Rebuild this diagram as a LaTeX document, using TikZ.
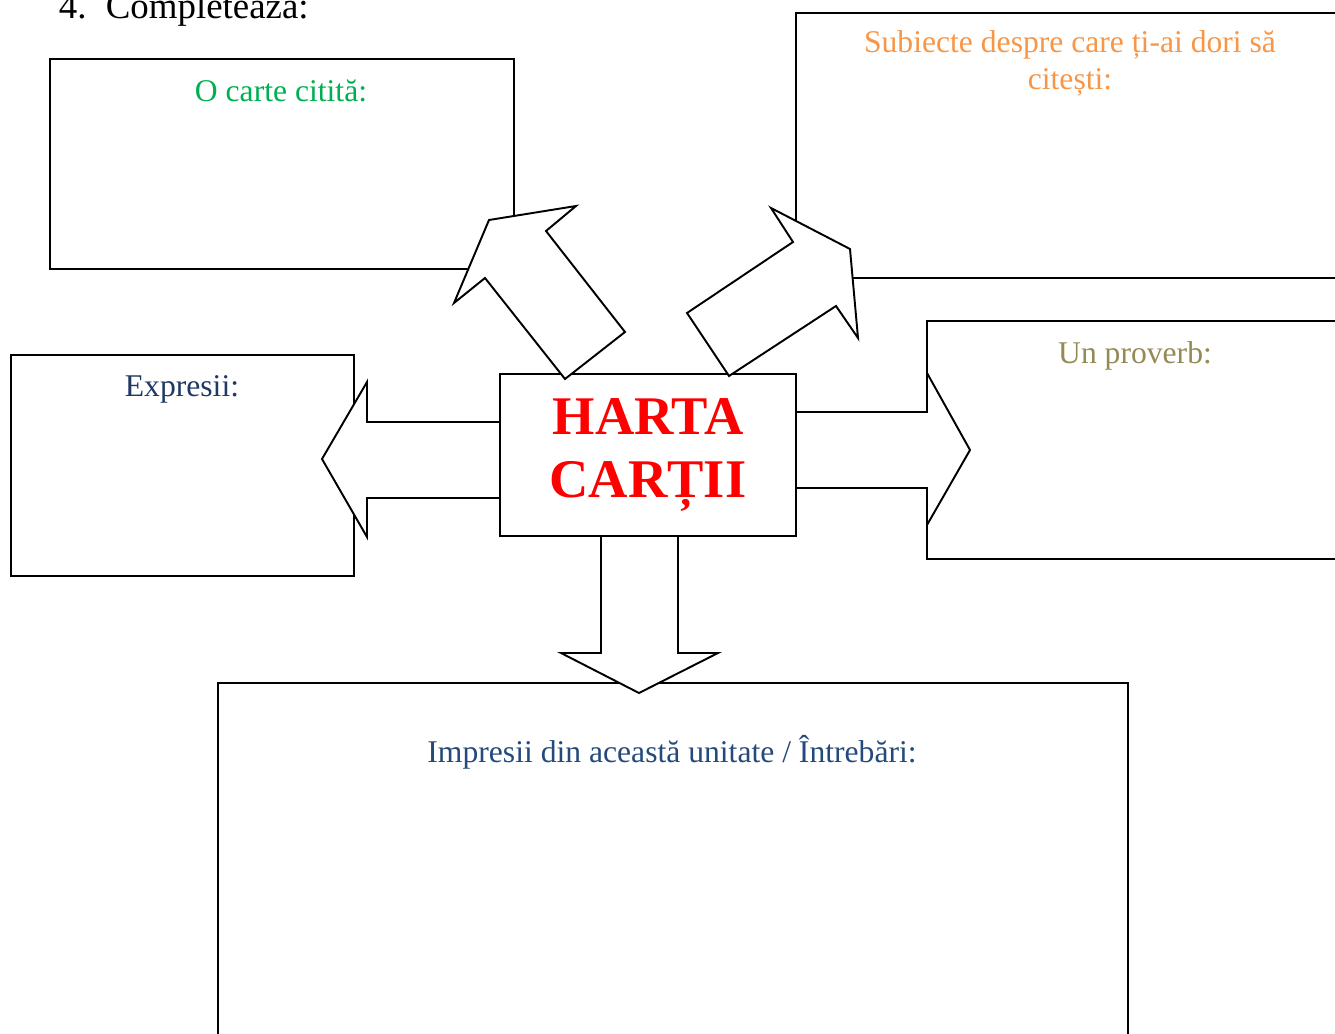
\documentclass[tikz,border=0pt]{standalone}
\usepackage{fontspec}
\setmainfont{Liberation Serif}
\usetikzlibrary{arrows.meta}
\tikzset{>=latex}
\definecolor{verde}{HTML}{00B050}
\definecolor{portocaliu}{HTML}{F79646}
\definecolor{albastru}{HTML}{1F3864}
\definecolor{bleumarin}{HTML}{244A7C}
\definecolor{masliniu}{HTML}{948A54}
\tikzset{sageata/.style={draw=black, fill=white, line width=1.1pt, line join=miter}}

\begin{document}
\begin{tikzpicture}[x=0.02cm, y=-0.02cm, line width=1.1pt, font=\fontsize{18}{21}\selectfont]
            \useasboundingbox (0,0) rectangle (1335,1034);
            \clip (0,0) rectangle (1335,1034);
            \node[black, anchor=base west, font=\fontsize{21}{25}\selectfont] (titlu) at (52,19) {4.\hspace{11pt}Completeaza:};
            \draw[black] (50,59) rectangle (514,269);
            \draw[black] (796,13) rectangle (1360,278);
            \draw[black] (11,355) rectangle (354,576);
            \draw[black] (927,321) rectangle (1360,559);
            \draw[black] (218,683) rectangle (1128,1060);
            \draw[black, fill=white] (500,374) rectangle (796,536);
            \filldraw[sageata] (500,422) -- (367,422) -- (367,382) -- (322,459) -- (367,537) -- (367,498) -- (500,498) -- cycle;
            \filldraw[sageata] (796,412) -- (927,412) -- (927,373) -- (970,450) -- (927,525) -- (927,488) -- (796,488) -- cycle;
            \filldraw[sageata] (601,536) -- (601,653) -- (561,653) -- (639,693) -- (718,653) -- (678,653) -- (678,536) -- cycle;
            \filldraw[sageata] (565,379) -- (485,278) -- (454,303) -- (489,220) -- (576,206) -- (546,231) -- (625,332) -- cycle;
            \filldraw[sageata] (729,376) -- (687,313) -- (793,242) -- (771,208) -- (850,249) -- (858,338) -- (836,306) -- cycle;
            \node[verde] (citita) at (281,91) {O carte citită:};
            \node[portocaliu, align=center] (subiecte) at (1070,63) {Subiecte despre care ți-ai dori să\\citești:};
            \node[albastru] (expresii) at (182,389) {Expresii:};
            \node[masliniu] (proverb) at (1135,356) {Un proverb:};
            \node[bleumarin] (impresii) at (672,752) {Impresii din această unitate / Întrebări:};
            \node[red, align=center, font=\fontsize{31}{36}\selectfont\bfseries] (harta) at (648,455) {HARTA\\CARȚII};
        \end{tikzpicture}
\end{document}
